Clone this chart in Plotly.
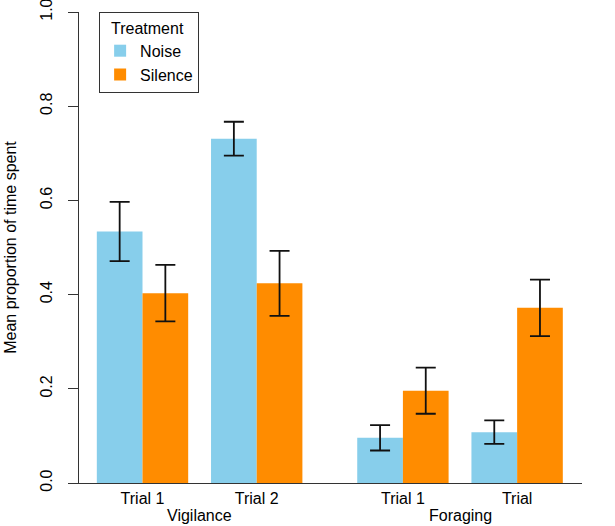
import plotly.graph_objects as go

# ---- data ----
behaviours = ["Vigilance", "Vigilance", "Foraging", "Foraging"]
trial_labels = ["Trial 1", "Trial 2", "Trial 1", "Trial"]
noise_mean = [0.534, 0.731, 0.096, 0.108]
noise_se = [0.063, 0.036, 0.027, 0.025]
silence_mean = [0.403, 0.424, 0.196, 0.372]
silence_se = [0.060, 0.069, 0.049, 0.060]
y_ticks = [0.0, 0.2, 0.4, 0.6, 0.8, 1.0]

# ---- layout positions (group centres; extra gap between behaviours) ----
group_pitch = 2.5
behaviour_gap = 0.7
positions = []
for i, b in enumerate(behaviours):
    positions.append(i * group_pitch + (behaviour_gap if b == "Foraging" else 0))

FONT = "Liberation Sans, Arial, sans-serif"
FS = 16

fig = go.Figure()
fig.add_trace(go.Bar(
    x=positions, y=noise_mean, name="Noise",
    marker=dict(color="#87CEEB", line=dict(width=0)),
    error_y=dict(type="data", array=noise_se, color="#111111", thickness=1.8, width=10),
))
fig.add_trace(go.Bar(
    x=positions, y=silence_mean, name="Silence",
    marker=dict(color="#FF8C00", line=dict(width=0)),
    error_y=dict(type="data", array=silence_se, color="#111111", thickness=1.8, width=10),
))

# behaviour labels under the trials
for b in dict.fromkeys(behaviours):
    xs = [p for p, bb in zip(positions, behaviours) if bb == b]
    fig.add_annotation(x=sum(xs) / len(xs), xref="x", y=-0.07, yref="paper",
                       text=b, showarrow=False, yanchor="middle",
                       font=dict(family=FONT, size=FS, color="black"))

fig.update_layout(
    width=615, height=526,
    margin=dict(l=79, r=33, t=12, b=43),
    plot_bgcolor="white", paper_bgcolor="white",
    barmode="group", bargap=0.2, bargroupgap=0,
    font=dict(family=FONT, size=FS, color="black"),
    showlegend=True,
    legend=dict(
        title=dict(text="&nbsp;&nbsp;Treatment", font=dict(family=FONT, size=FS)),
        x=0.04, y=1.0, xanchor="left", yanchor="top",
        bordercolor="#333333", borderwidth=1, bgcolor="white",
        font=dict(family=FONT, size=FS),
        itemclick=False,
    ),
    xaxis=dict(
        range=[-1.39, 9.62], tickvals=positions, ticktext=trial_labels,
        showline=True, linecolor="#333333", linewidth=1, ticks="",
        showgrid=False, zeroline=False, ticklabelstandoff=1,
        tickfont=dict(family=FONT, size=FS, color="black"),
    ),
    yaxis=dict(
        range=[0, 1], tickvals=y_ticks, ticktext=[f"{v:.1f}" for v in y_ticks],
        showline=True, linecolor="#333333", linewidth=1,
        ticks="outside", ticklen=10, tickcolor="#333333",
        showgrid=False, zeroline=False, tickangle=-90,
        ticklabelstandoff=10, ticklabeloverflow="allow", automargin=False,
        tickfont=dict(family=FONT, size=FS, color="black"),
        title=dict(text="Mean proportion of time spent",
                   font=dict(family=FONT, size=FS, color="black"), standoff=16),
    ),
)

fig.write_html("out.html", config={"displayModeBar": False},
               post_script="document.body.style.margin='0px';")
